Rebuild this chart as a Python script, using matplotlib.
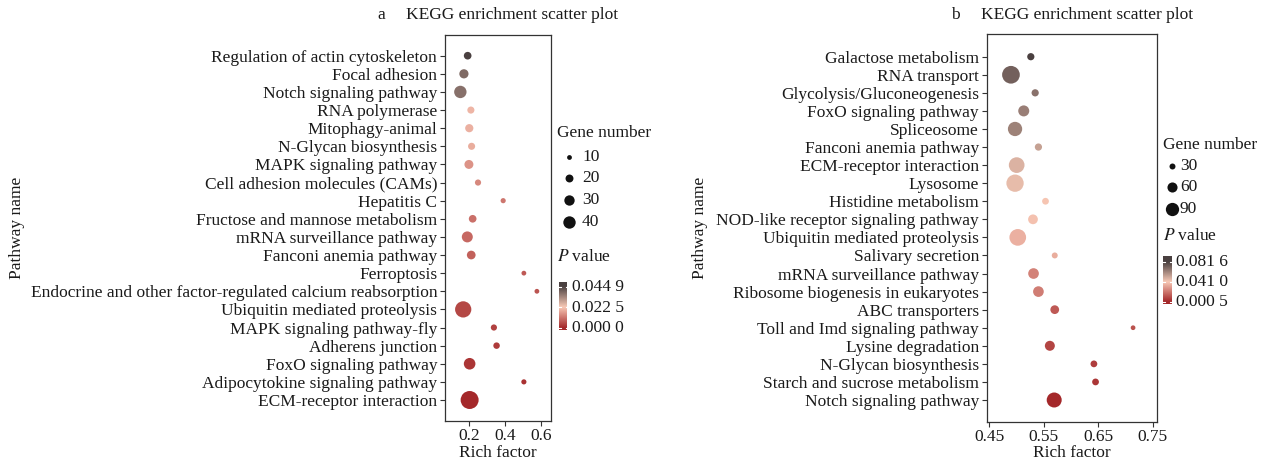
import numpy as np
import matplotlib
matplotlib.use('Agg')
import matplotlib.pyplot as plt
from matplotlib.colors import LinearSegmentedColormap, Normalize

plt.rcParams['font.family'] = ['Liberation Serif', 'DejaVu Serif']
plt.rcParams['mathtext.fontset'] = 'stix'
FS = 12.5
plt.rcParams['font.size'] = FS

# ---------------- data ----------------
pathways_a = ["Regulation of actin cytoskeleton", "Focal adhesion", "Notch signaling pathway",
              "RNA polymerase", "Mitophagy-animal", "N-Glycan biosynthesis",
              "MAPK signaling pathway", "Cell adhesion molecules (CAMs)", "Hepatitis C",
              "Fructose and mannose metabolism", "mRNA surveillance pathway",
              "Fanconi anemia pathway", "Ferroptosis",
              "Endocrine and other factor-regulated calcium reabsorption",
              "Ubiquitin mediated proteolysis", "MAPK signaling pathway-fly",
              "Adherens junction", "FoxO signaling pathway",
              "Adipocytokine signaling pathway", "ECM-receptor interaction"]
rich_a = [0.191, 0.170, 0.150, 0.209, 0.200, 0.213, 0.198, 0.249, 0.390, 0.219,
          0.189, 0.211, 0.506, 0.579, 0.166, 0.338, 0.353, 0.202, 0.506, 0.202]
genes_a = [19, 25, 40, 17, 21, 17, 24, 14, 11, 19, 33, 23, 10, 10, 63, 14, 15, 36, 11, 75]
pvals_a = [0.0449, 0.038, 0.037, 0.0198, 0.019, 0.0185, 0.015, 0.0135, 0.011, 0.010,
           0.009, 0.008, 0.007, 0.0063, 0.0045, 0.0036, 0.0027, 0.0018, 0.0013, 0.0000]
xticks_a = [0.2, 0.4, 0.6]
xticklabels_a = ["0.2", "0.4", "0.6"]
size_legend_a = [10, 20, 30, 40]
p_legend_a = [0.0449, 0.0225, 0.0]
p_legend_labels_a = ["0.044 9", "0.022 5", "0.000 0"]

pathways_b = ["Galactose metabolism", "RNA transport", "Glycolysis/Gluconeogenesis",
              "FoxO signaling pathway", "Spliceosome", "Fanconi anemia pathway",
              "ECM-receptor interaction", "Lysosome", "Histidine metabolism",
              "NOD-like receptor signaling pathway", "Ubiquitin mediated proteolysis",
              "Salivary secretion", "mRNA surveillance pathway",
              "Ribosome biogenesis in eukaryotes", "ABC transporters",
              "Toll and Imd signaling pathway", "Lysine degradation",
              "N-Glycan biosynthesis", "Starch and sucrose metabolism",
              "Notch signaling pathway"]
rich_b = [0.526, 0.4895, 0.534, 0.513, 0.497, 0.540, 0.500, 0.497, 0.553, 0.530,
          0.502, 0.570, 0.531, 0.540, 0.570, 0.714, 0.561, 0.642, 0.645, 0.569]
genes_b = [38, 142, 38, 68, 101, 38, 117, 137, 35, 57, 129, 30, 65, 65, 49, 23, 59, 35, 35, 109]
pvals_b = [0.0816, 0.072, 0.067, 0.063, 0.062, 0.053, 0.048, 0.045, 0.040, 0.039,
           0.035, 0.034, 0.023, 0.022, 0.013, 0.011, 0.008, 0.006, 0.004, 0.0005]
xticks_b = [0.45, 0.55, 0.65, 0.75]
xticklabels_b = ["0.45", "0.55", "0.65", "0.75"]
size_legend_b = [30, 60, 90]
p_legend_b = [0.0816, 0.0410, 0.0005]
p_legend_labels_b = ["0.081 6", "0.041 0", "0.000 5"]

# ---------------- style ----------------
W, H = 1266, 466
fig = plt.figure(figsize=(W / 100, H / 100), dpi=100)
cmap = LinearSegmentedColormap.from_list('pv', [(0, '#a4282a'), (0.5, '#f8c9b6'), (1, '#4a4040')])
TXT = '#1a1a1a'
SP = '#333333'


def px_rect(l, t, r, b):
    return [l / W, 1 - b / H, (r - l) / W, (b - t) / H]


ov = fig.add_axes([0, 0, 1, 1], zorder=5)
ov.set_xlim(0, W)
ov.set_ylim(H, 0)
ov.axis('off')
ov.patch.set_alpha(0)


def diam_a(v):
    return 2.4 * np.sqrt(np.asarray(v, float)) - 2.8


def diam_b(v):
    return 1.82 * np.sqrt(np.asarray(v, float)) - 4.0


def panel(rect, names, rich, genes, pv, diam, xlim, xticks, xtl, vmin, vmax,
          letter, ylab_x, top_row_px, bot_row_px):
    l, t, r, b = rect
    ax = fig.add_axes(px_rect(*rect))
    n = len(names)
    ypos = np.arange(n)
    d_pt = diam(genes) * 0.72
    ax.scatter(rich, ypos, s=d_pt ** 2, c=pv, cmap=cmap,
               norm=Normalize(vmin, vmax), linewidths=0, zorder=3)
    sp = (bot_row_px - top_row_px) / (n - 1)
    ax.set_ylim(n - 1 + (b - bot_row_px) / sp, -(top_row_px - t) / sp)
    ax.set_yticks(ypos)
    ax.set_yticklabels(names, color=TXT)
    ax.set_xlim(*xlim)
    ax.set_xticks(xticks)
    ax.set_xticklabels(xtl, color=TXT)
    ax.tick_params(axis='both', length=3.6, width=0.8, color=SP, labelsize=FS)
    ax.tick_params(axis='y', pad=2)
    ax.tick_params(axis='x', pad=1.5)
    for s in ax.spines.values():
        s.set_color(SP)
        s.set_linewidth(0.9)
    ov.text((l + r) / 2, 453, "Rich factor", ha='center', va='center', fontsize=FS, color=TXT)
    ov.text(ylab_x, (t + b) / 2, "Pathway name", ha='center', va='center', rotation=90,
            fontsize=FS, color=TXT)
    # title centred over the panel: letter + gap + title
    cx = (l + r) / 2
    ttl = ov.text(0, 15, "KEGG enrichment scatter plot", ha='left', va='center',
                  fontsize=FS, color=TXT)
    let = ov.text(0, 15, letter, ha='left', va='center', fontsize=FS, color=TXT)
    fig.canvas.draw()
    rend = fig.canvas.get_renderer()
    wt = ttl.get_window_extent(rend).width
    wl = let.get_window_extent(rend).width
    gap = 21
    total = wl + gap + wt
    x0 = cx - total / 2
    let.set_x(x0)
    ttl.set_x(x0 + wl + gap)
    return ax


def legend(x0, dot_x, lab_x, title_y, size_vals, size_ys, diam, p_title_y,
           bar_rect, p_vals, p_labels, p_label_ys, vmin, vmax):
    ov.text(x0, title_y, "Gene number", ha='left', va='center', fontsize=FS, color=TXT)
    for v, y in zip(size_vals, size_ys):
        ov.scatter([dot_x], [y], s=(float(diam(v)) * 0.72) ** 2, color='#111111', linewidths=0)
        ov.text(lab_x, y, str(v), ha='left', va='center', fontsize=FS, color=TXT)
    ov.text(x0, p_title_y, r"$P$ value", ha='left', va='center', fontsize=FS, color=TXT)
    l, t, r, b = bar_rect
    y_hi, y_lo = p_label_ys[0], p_label_ys[-1]
    per_px = (vmax - vmin) / (y_lo - y_hi)
    top_val = vmax + (y_hi - t) * per_px
    bot_val = vmin - (b - y_lo) * per_px
    cax = fig.add_axes(px_rect(l, t, r, b), zorder=6)
    grad = np.linspace(bot_val, top_val, 256).reshape(-1, 1)
    cax.imshow(grad, origin='lower', extent=(0, 1, bot_val, top_val), aspect='auto',
               cmap=cmap, norm=Normalize(vmin, vmax, clip=True))
    cax.set_xlim(0, 1)
    cax.set_ylim(bot_val, top_val)
    cax.axis('off')
    for v in p_vals:
        cax.plot([0, 0.22], [v, v], color='white', lw=0.8)
        cax.plot([0.78, 1], [v, v], color='white', lw=0.8)
    for lab, y in zip(p_labels, p_label_ys):
        ov.text(r + 4.5, y, lab, ha='left', va='center', fontsize=FS, color=TXT)


panel((445, 35, 551, 421), pathways_a, rich_a, genes_a, pvals_a, diam_a,
      (0.064, 0.658), xticks_a, xticklabels_a, min(pvals_a), max(pvals_a),
      "a", 17, 55.7, 400)
legend(557, 569, 582, 133, size_legend_a, [157.3, 178.3, 200, 221.7], diam_a, 256.7,
       (559.3, 281.7, 567.3, 330.5), p_legend_a, p_legend_labels_a, [286.7, 308.3, 328.3],
       min(pvals_a), max(pvals_a))

panel((986.7, 34, 1157, 421.7), pathways_b, rich_b, genes_b, pvals_b, diam_b,
      (0.4449, 0.758), xticks_b, xticklabels_b, min(pvals_b), max(pvals_b),
      "b", 700, 56.7, 400)
legend(1163, 1172, 1180, 145, size_legend_b, [166, 187.3, 209.3], diam_b, 236,
       (1163, 256, 1171.7, 304), p_legend_b, p_legend_labels_b, [261.7, 281.7, 301.7],
       min(pvals_b), max(pvals_b))

fig.savefig('out.png', dpi=100)
